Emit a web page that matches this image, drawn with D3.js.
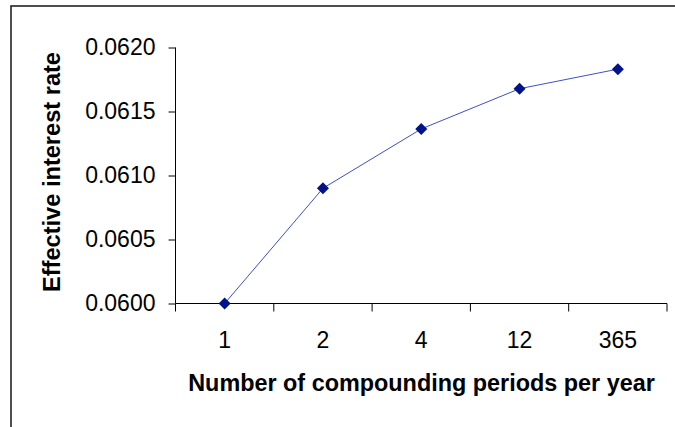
<!DOCTYPE html>
<html><head><meta charset="utf-8">
<script src="https://cdn.jsdelivr.net/npm/d3@7"></script>
<style>body{margin:0;background:#fff}svg{display:block}</style>
</head><body>
<svg id="c" width="675" height="427"></svg>
<script>
const categories = ["1","2","4","12","365"];
const rates = [0.0600, 0.06090, 0.061364, 0.061678, 0.061831];
const yTicks = [0.0600, 0.0605, 0.0610, 0.0615, 0.0620];

const svg = d3.select("#c");
const font = "Liberation Sans, Arial, sans-serif";
// outer frame (only top/left visible)
svg.append("rect").attr("x",11).attr("y",6).attr("width",700).attr("height",500)
  .attr("fill","none").attr("stroke","#222").attr("stroke-width",1.6);

const x = d3.scaleBand().domain(categories).range([175.5,667]);
const y = d3.scaleLinear().domain([0.0600,0.0620]).range([303.5,47.5]);

const yAxis = svg.append("g").attr("transform","translate(175.5,0)")
  .call(d3.axisLeft(y).tickValues(yTicks).tickFormat(d3.format(".4f")).tickSize(7).tickPadding(13).tickSizeOuter(0));
yAxis.select(".domain").attr("d",`M0,${y(0.0620)}V${y(0.0600)}`);
const xAxis = svg.append("g").attr("transform","translate(0,303.5)")
  .call(d3.axisBottom(x).tickSize(0).tickPadding(28));
xAxis.select(".domain").attr("d",`M${x.range()[0]},0H${x.range()[1]}`);
// band boundary ticks
const bounds = categories.map(c=>x(c)).concat([x.range()[1]]);
xAxis.selectAll("line.bt").data(bounds).join("line").attr("class","bt")
  .attr("x1",d=>d).attr("x2",d=>d).attr("y1",0).attr("y2",8).attr("stroke","#000");
svg.selectAll(".tick text").attr("font-family",font).attr("font-size",23).attr("fill","#000");
svg.selectAll(".domain, .tick line").attr("stroke","#000");

const cx = d => x(d)+x.bandwidth()/2;
svg.append("path").datum(rates.map((v,i)=>[cx(categories[i]),y(v)]))
  .attr("d",d3.line()).attr("fill","none").attr("stroke","#3f4fc8").attr("stroke-width",1);
svg.selectAll("path.m").data(rates).join("path").attr("class","m")
  .attr("d",d3.symbol(d3.symbolSquare, 72)())
  .attr("transform",(d,i)=>`translate(${cx(categories[i])},${y(d)}) rotate(45)`)
  .attr("fill","#00128c");

svg.append("text").attr("x",421.5).attr("y",391).attr("text-anchor","middle")
  .attr("font-family",font).attr("font-weight","bold").attr("font-size",23.4)
  .text("Number of compounding periods per year");
svg.append("text").attr("transform","translate(60,172) rotate(-90)").attr("text-anchor","middle")
  .attr("font-family",font).attr("font-weight","bold").attr("font-size",23.6)
  .text("Effective interest rate");
</script>
</body></html>
